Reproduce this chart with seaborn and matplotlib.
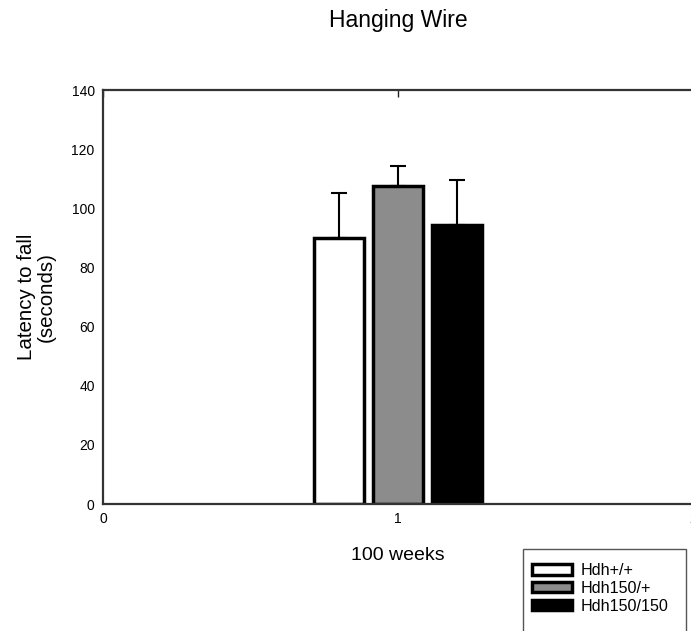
import matplotlib
matplotlib.use("Agg")
import matplotlib.pyplot as plt
from matplotlib.patches import Rectangle
import seaborn as sns
import pandas as pd

# ---- data ----
genotypes = ["Hdh+/+", "Hdh150/+", "Hdh150/150"]
means = [89.9, 107.4, 94.3]
sem = [15.2, 6.9, 15.3]
age = ["100 weeks"] * 3
colors = ["#ffffff", "#8c8c8c", "#000000"]
xtick_labels = ["0", "1", "2"]
yticks = [0, 20, 40, 60, 80, 100, 120, 140]

df = pd.DataFrame({"age": age, "genotype": genotypes, "latency": means})

sns.set_style("white")
plt.rcParams["font.family"] = ["Liberation Sans", "DejaVu Sans"]
plt.rcParams["text.color"] = "black"
plt.rcParams["axes.labelcolor"] = "black"

W, H = 691, 631
fig = plt.figure(figsize=(W / 100, H / 100), dpi=100)
ax = fig.add_axes([103 / W, 1 - 504 / H, 590 / W, 414 / H])

sns.barplot(data=df, x="age", y="latency", hue="genotype", hue_order=genotypes,
            palette=colors, errorbar=None, width=0.6, gap=0.15,
            edgecolor="black", linewidth=2.5, ax=ax, legend=True)

# upward-only error bars at bar centres
for i, p in enumerate(ax.patches[:3]):
    xc = p.get_x() + p.get_width() / 2
    ax.errorbar(xc, means[i], yerr=[[0], [sem[i]]], fmt="none", ecolor="black",
                elinewidth=1.5, capsize=6, capthick=1.5, zorder=1)

ax.set_xlim(-1, 1)
ax.set_ylim(0, 140)
ax.set_xticks([-1, 0, 1])
ax.set_xticklabels(xtick_labels)
ax.set_yticks(yticks)
ax.tick_params(direction="in", length=5, width=1, labelsize=10, top=True,
               right=False, pad=6, colors="#222222", labelcolor="black")
ax.tick_params(axis="x", labeltop=False)

for s in ["left", "bottom", "top"]:
    ax.spines[s].set_visible(True)
    ax.spines[s].set_linewidth(1.6)
    ax.spines[s].set_color("#333333")
ax.spines["right"].set_visible(False)

ax.set_xlabel("100 weeks", fontsize=14, color="black")
ax.xaxis.set_label_coords(0.5, (504 - 547) / 414)
ax.set_ylabel("Latency to fall\n(seconds)", fontsize=14.8, linespacing=1.05,
              color="black")
ax.yaxis.set_label_coords((56 - 103) / 590, 0.5)

fig.text(398 / W, 1 - 27 / H, "Hanging Wire", fontsize=16.5,
         ha="center", va="baseline", color="black")

ax.get_legend().remove()
handles = ax.patches[:3]
leg = fig.legend(handles, genotypes, loc="upper left",
                 bbox_to_anchor=(532 / W, 1 - 563 / H), fontsize=11.6,
                 frameon=False, handlelength=2.5, handleheight=0.62,
                 handletextpad=0.5, labelspacing=0.18,
                 borderpad=0, borderaxespad=0, labelcolor="black")
fig.patches.append(Rectangle((523 / W, -0.05), (686 - 523) / W, 0.05 + (H - 549) / H,
                             transform=fig.transFigure, fill=False,
                             edgecolor="#555555", linewidth=1.0))

fig.savefig("out.png", dpi=100)
